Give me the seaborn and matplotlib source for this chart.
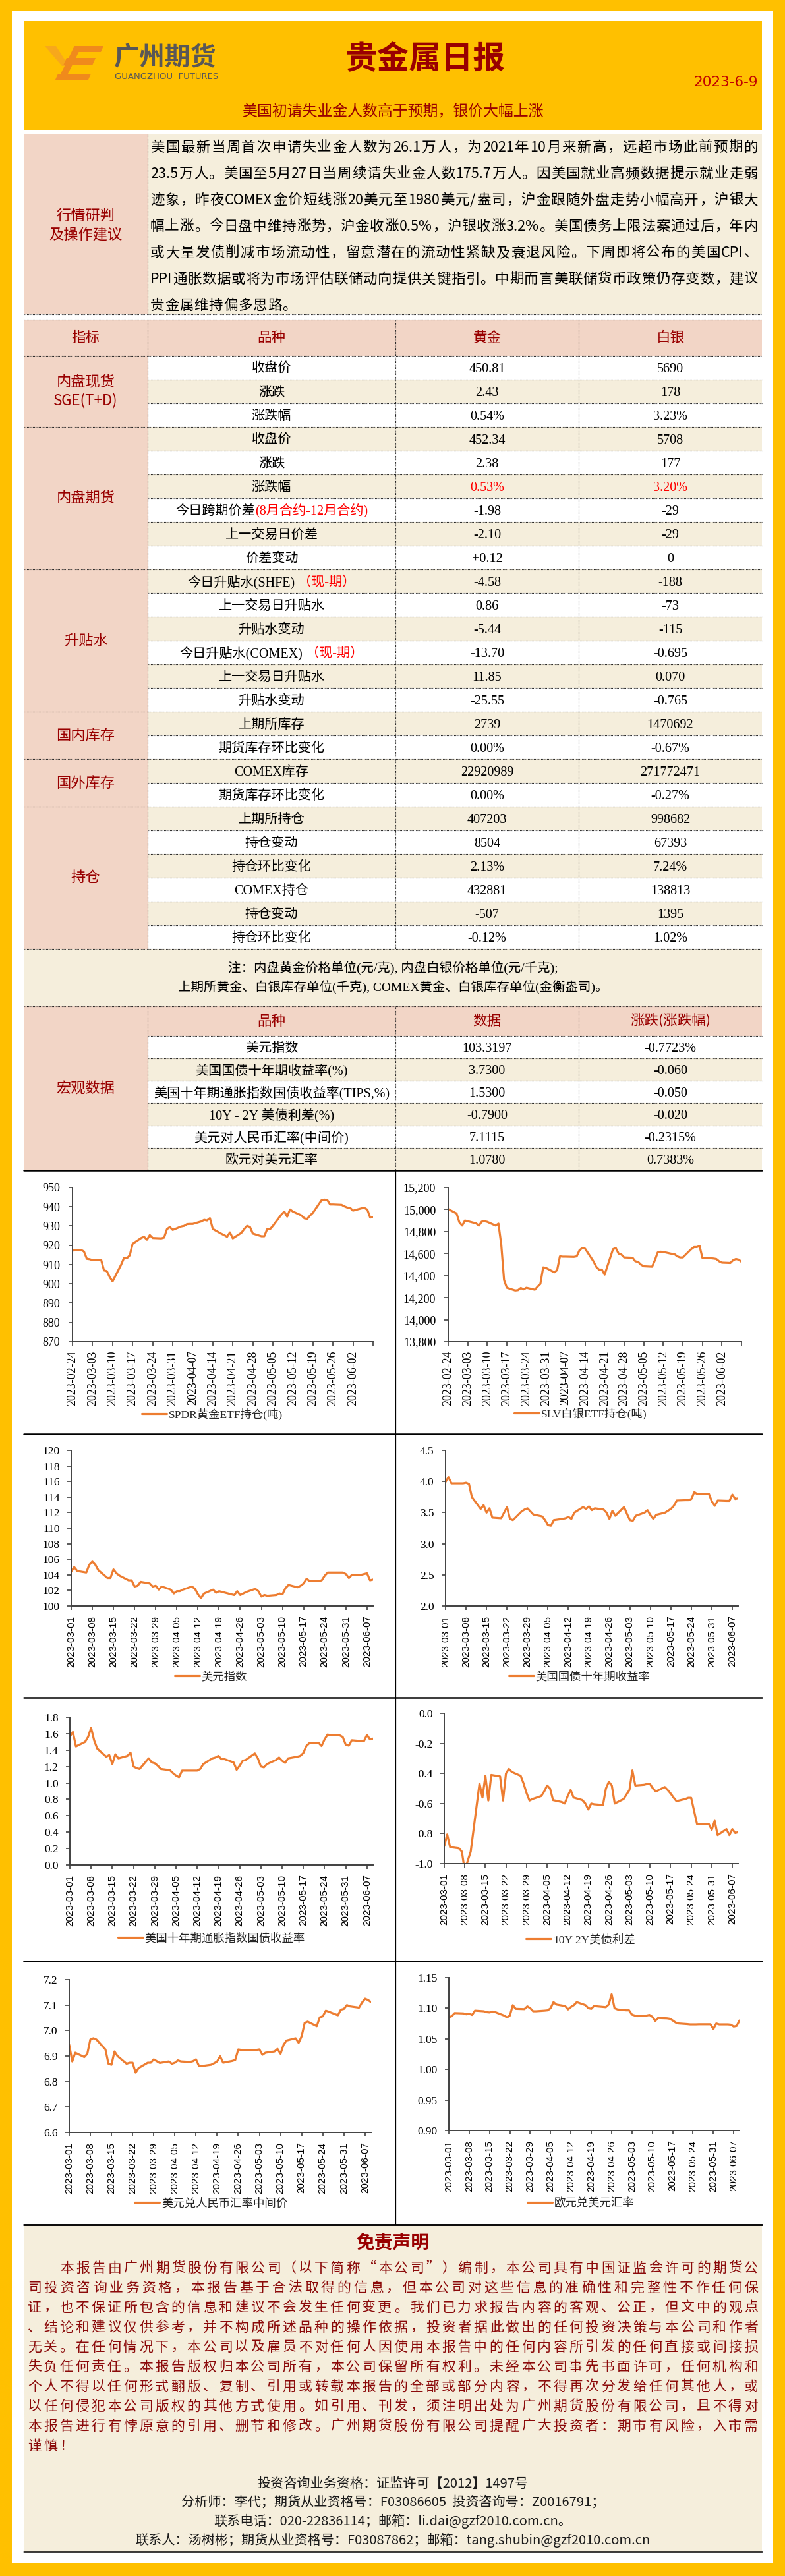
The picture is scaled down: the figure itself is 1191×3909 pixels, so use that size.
import matplotlib
matplotlib.use('Agg')
import matplotlib.pyplot as plt
from matplotlib.patches import Rectangle, Polygon
from matplotlib.lines import Line2D
from matplotlib.font_manager import FontProperties
import matplotlib.ticker as mticker
import numpy as np
import pandas as pd
import seaborn as sns

W, H = 1191, 3909

# ---------------- texts ----------------
report_title = '贵金属日报'
report_date = '2023-6-9'
headline = '美国初请失业金人数高于预期，银价大幅上涨'
analysis_label = '行情研判\n及操作建议'
analysis_lines = [
    '美国最新当周首次申请失业金人数为26.1万人，为2021年10月来新高，远超市场此前预期的',
    '23.5万人。美国至5月27日当周续请失业金人数175.7万人。因美国就业高频数据提示就业走弱',
    '迹象，昨夜COMEX金价短线涨20美元至1980美元/盎司，沪金跟随外盘走势小幅高开，沪银大',
    '幅上涨。今日盘中维持涨势，沪金收涨0.5%，沪银收涨3.2%。美国债务上限法案通过后，年内',
    '或大量发债削减市场流动性，留意潜在的流动性紧缺及衰退风险。下周即将公布的美国CPI、',
    'PPI通胀数据或将为市场评估联储动向提供关键指引。中期而言美联储货币政策仍存变数，建议',
    '贵金属维持偏多思路。',
]

# ---------------- main table ----------------
table_header = ['指标', '品种', '黄金', '白银']
group_names = ['内盘现货\nSGE(T+D)', '内盘期货', '升贴水', '国内库存', '国外库存', '持仓']
group_sizes = [3, 6, 6, 2, 2, 6]
table_items = ['收盘价', '涨跌', '涨跌幅', '收盘价', '涨跌', '涨跌幅', '今日跨期价差', '上一交易日价差', '价差变动',
               '今日升贴水(SHFE)', '上一交易日升贴水', '升贴水变动', '今日升贴水(COMEX)', '上一交易日升贴水', '升贴水变动',
               '上期所库存', '期货库存环比变化', 'COMEX库存', '期货库存环比变化',
               '上期所持仓', '持仓变动', '持仓环比变化', 'COMEX持仓', '持仓变动', '持仓环比变化']
item_red_notes = {6: '(8月合约-12月合约)', 9: ' （现-期）', 12: ' （现-期）'}
gold_values = ['450.81', '2.43', '0.54%', '452.34', '2.38', '0.53%', '-1.98', '-2.10', '+0.12',
               '-4.58', '0.86', '-5.44', '-13.70', '11.85', '-25.55', '2739', '0.00%', '22920989', '0.00%',
               '407203', '8504', '2.13%', '432881', '-507', '-0.12%']
silver_values = ['5690', '178', '3.23%', '5708', '177', '3.20%', '-29', '-29', '0',
                 '-188', '-73', '-115', '-0.695', '0.070', '-0.765', '1470692', '-0.67%', '271772471', '-0.27%',
                 '998682', '67393', '7.24%', '138813', '1395', '1.02%']
red_value_rows = [5]
table_note = ['注：内盘黄金价格单位(元/克), 内盘白银价格单位(元/千克);',
              '上期所黄金、白银库存单位(千克), COMEX黄金、白银库存单位(金衡盎司)。']

# ---------------- macro table ----------------
macro_header = ['品种', '数据', '涨跌(涨跌幅)']
macro_items = ['美元指数', '美国国债十年期收益率(%)', '美国十年期通胀指数国债收益率(TIPS,%)', '10Y - 2Y 美债利差(%)',
               '美元对人民币汇率(中间价)', '欧元对美元汇率']
macro_values = ['103.3197', '3.7300', '1.5300', '-0.7900', '7.1115', '1.0780']
macro_changes = ['-0.7723%', '-0.060', '-0.050', '-0.020', '-0.2315%', '0.7383%']

# ---------------- chart series ----------------
etf_dates = pd.bdate_range('2023-02-24', '2023-06-09')
macro_dates = pd.bdate_range('2023-03-01', '2023-06-09')

spdr_gold = [917.3, 917.6, 916.8,
             913.0, 912.8, 912.3,
             912.5, 907.0, 906.6, 903.5, 901.3,
             910.0, 913.5, 913.3, 914.8, 920.8,
             923.8, 924.4, 922.9, 925.3, 923.8,
             923.6, 924.0, 928.4, 929.5, 928.0,
             929.8, 930.1, 931.0, 931.1, 931.1,
             932.4, 933.2, 932.9, 934.1, 928.5,
             926.0, 925.3, 924.4, 926.7, 923.6,
             926.5, 928.5, 930.1, 929.5, 926.1,
             924.7, 924.7, 928.4, 928.4, 930.1,
             936.0, 937.5, 934.9, 938.6, 937.5,
             935.5, 934.0, 933.7, 935.5, 936.9,
             943.4, 943.7, 943.5, 941.2, 941.2,
             941.0, 940.2, 939.6, 939.4, 938.0,
             939.2, 939.4, 938.5, 934.4, 934.6]

slv_silver = [15004, 14964, 14884,
              14854, 14900, 14894,
              14874, 14854, 14890, 14894, 14888,
              14854, 14872, 14680, 14360, 14290,
              14265, 14268, 14288, 14275, 14290,
              14272, 14300, 14325, 14475, 14470,
              14430, 14450, 14575, 14572, 14572,
              14570, 14575, 14630, 14651, 14645,
              14530, 14480, 14455, 14455, 14409,
              14640, 14650, 14600, 14591, 14565,
              14562, 14530, 14525, 14500, 14485,
              14481, 14540, 14610, 14617, 14615,
              14598, 14595, 14575, 14565, 14565,
              14640, 14659, 14659, 14669, 14561,
              14558, 14555, 14551, 14530, 14518,
              14515, 14540, 14551, 14545, 14525]

dollar_index = [104.4, 105.0, 104.5,
                104.3, 105.3, 105.7, 105.3, 104.6,
                103.6, 103.6, 104.7, 104.2, 103.9,
                103.3, 103.3, 102.5, 102.6, 103.1,
                102.9, 102.5, 102.6, 102.1, 102.5,
                102.1, 101.6, 101.9, 101.9, 102.1,
                102.5, 102.2, 101.5, 101.0, 101.6,
                102.1, 101.7, 101.9, 101.8, 101.7,
                101.4, 101.9, 101.4, 101.6, 101.8,
                102.2, 101.9, 101.2, 101.4, 101.3,
                101.4, 101.6, 101.5, 102.3, 102.7,
                102.4, 102.6, 102.9, 103.5, 103.2,
                103.2, 103.3, 103.9, 104.3, 104.3,
                104.3, 104.3, 104.1, 103.6, 104.0,
                104.0, 104.1, 104.2, 103.3, 103.4]

us10y = [3.995, 4.07, 3.97,
         3.97, 3.97, 3.98, 3.96, 3.75,
         3.56, 3.62, 3.50, 3.57, 3.42,
         3.41, 3.50, 3.59, 3.40, 3.38,
         3.52, 3.55, 3.57, 3.52, 3.47,
         3.44, 3.38, 3.30, 3.29, 3.38,
         3.40, 3.41, 3.43, 3.40, 3.50,
         3.59, 3.56, 3.60, 3.54, 3.57,
         3.55, 3.50, 3.40, 3.53, 3.45,
         3.59, 3.48, 3.38, 3.37, 3.45,
         3.50, 3.54, 3.46, 3.40, 3.465,
         3.50, 3.53, 3.56, 3.61, 3.695,
         3.70, 3.70, 3.72, 3.83, 3.80,
         3.80, 3.80, 3.68, 3.61, 3.695,
         3.69, 3.69, 3.79, 3.72, 3.73]

tips10y = [1.565, 1.62, 1.445,
           1.50, 1.56, 1.67, 1.52, 1.42,
           1.32, 1.34, 1.23, 1.35, 1.30,
           1.33, 1.37, 1.20, 1.18, 1.17,
           1.30, 1.25, 1.24, 1.21, 1.17,
           1.155, 1.12, 1.09, 1.07, 1.15,
           1.15, 1.15, 1.15, 1.17, 1.23,
           1.30, 1.31, 1.33, 1.29, 1.29,
           1.25, 1.16, 1.21, 1.27, 1.28,
           1.36, 1.30, 1.20, 1.19, 1.23,
           1.28, 1.31, 1.27, 1.245, 1.30,
           1.32, 1.33, 1.365, 1.45, 1.485,
           1.49, 1.45, 1.53, 1.59, 1.58,
           1.58, 1.56, 1.465, 1.455, 1.52,
           1.51, 1.51, 1.585, 1.53, 1.54]

spread_10y2y = [-0.883, -0.806, -0.89,
                -0.898, -0.92, -1.05, -0.98, -0.92,
                -0.467, -0.56, -0.416, -0.58, -0.41,
                -0.42, -0.58, -0.40, -0.37, -0.39,
                -0.416, -0.467, -0.53, -0.58, -0.57,
                -0.55, -0.52, -0.48, -0.50, -0.577,
                -0.59, -0.60, -0.55, -0.51, -0.56,
                -0.577, -0.60, -0.64, -0.60, -0.605,
                -0.61, -0.50, -0.455, -0.48, -0.60,
                -0.57, -0.54, -0.51, -0.38, -0.48,
                -0.475, -0.47, -0.47, -0.50, -0.52,
                -0.49, -0.51, -0.533, -0.56, -0.584,
                -0.57, -0.562, -0.562, -0.65, -0.737,
                -0.737, -0.737, -0.774, -0.715, -0.81,
                -0.77, -0.81, -0.77, -0.796, -0.79]

usdcny = [6.944, 6.879, 6.913,
          6.896, 6.909, 6.965, 6.970, 6.965,
          6.926, 6.870, 6.866, 6.918, 6.900,
          6.870, 6.874, 6.874, 6.835, 6.853,
          6.874, 6.874, 6.887, 6.880, 6.873,
          6.879, 6.870, 6.874, 6.883, 6.879,
          6.877, 6.880, 6.887, 6.861, 6.861,
          6.866, 6.872, 6.879, 6.899, 6.874,
          6.881, 6.885, 6.926, 6.924, 6.924,
          6.924, 6.924, 6.926, 6.905, 6.913,
          6.918, 6.928, 6.909, 6.944, 6.961,
          6.970, 6.952, 6.978, 7.030, 7.035,
          7.017, 7.052, 7.056, 7.078, 7.074,
          7.060, 7.082, 7.085, 7.100, 7.095,
          7.090, 7.110, 7.125, 7.120, 7.1115]

eurusd = [1.0850, 1.0870, 1.0920,
          1.0915, 1.0900, 1.0910, 1.0890, 1.0960,
          1.0950, 1.0935, 1.0930, 1.0945, 1.0935,
          1.0880, 1.0850, 1.0880, 1.1050, 1.0990,
          1.0985, 1.1030, 1.1000, 1.0950, 1.0950,
          1.0960, 1.0965, 1.1000, 1.1100, 1.1060,
          1.1035, 1.0980, 1.1020, 1.1050, 1.1100,
          1.1050, 1.1000, 1.0990, 1.1040, 1.1030,
          1.1017, 1.1060, 1.1227, 1.1000, 1.0980,
          1.0965, 1.0965, 1.0895, 1.0880, 1.0870,
          1.0880, 1.0890, 1.0860, 1.0792, 1.0840,
          1.0835, 1.0828, 1.0800, 1.0766, 1.0750,
          1.0740, 1.0735, 1.0735, 1.0735, 1.0737,
          1.0737, 1.0737, 1.0660, 1.0750, 1.0735,
          1.0735, 1.0730, 1.0700, 1.0710, 1.0800]

disclaimer_title = '免责声明'
disclaimer_lines = [
    '本报告由广州期货股份有限公司（以下简称“本公司”）编制，本公司具有中国证监会许可的期货公',
    '司投资咨询业务资格，本报告基于合法取得的信息，但本公司对这些信息的准确性和完整性不作任何保',
    '证，也不保证所包含的信息和建议不会发生任何变更。我们已力求报告内容的客观、公正，但文中的观点',
    '、结论和建议仅供参考，并不构成所述品种的操作依据，投资者据此做出的任何投资决策与本公司和作者',
    '无关。在任何情况下，本公司以及雇员不对任何人因使用本报告中的任何内容所引发的任何直接或间接损',
    '失负任何责任。本报告版权归本公司所有，本公司保留所有权利。未经本公司事先书面许可，任何机构和',
    '个人不得以任何形式翻版、复制、引用或转载本报告的全部或部分内容，不得再次分发给任何其他人，或',
    '以任何侵犯本公司版权的其他方式使用。如引用、刊发，须注明出处为广州期货股份有限公司，且不得对',
    '本报告进行有悖原意的引用、删节和修改。广州期货股份有限公司提醒广大投资者：期市有风险，入市需',
    '谨慎！',
]
footer_lines = [
    '投资咨询业务资格：证监许可【2012】1497号',
    '分析师：李代；期货从业资格号：F03086605  投资咨询号：Z0016791；',
    '联系电话：020-22836114；邮箱：li.dai@gzf2010.com.cn。',
    '联系人：汤树彬；期货从业资格号：F03087862；邮箱：tang.shubin@gzf2010.com.cn',
]

# ---------------- styling ----------------
YELLOW = '#FFC000'
PINK = '#F2D5C6'
CREAM = '#F5EEDC'
DARKRED = '#990000'
RED = '#FF0000'
ORANGE = '#ED7D31'
AXISGRAY = '#404040'
CJK = ['Noto Sans CJK SC', 'DejaVu Sans']
TBL = ['Liberation Serif', 'Noto Sans CJK SC']

sns.set_style('ticks')
plt.rcParams['font.family'] = CJK
plt.rcParams['axes.unicode_minus'] = False

fig = plt.figure(figsize=(W / 100, H / 100), dpi=100)
fig.patch.set_facecolor(YELLOW)
renderer = fig.canvas.get_renderer()


def fx(x):
    return x / W


def fy(y):
    return 1 - y / H


def rect(x0, y0, x1, y1, color, z=-3):
    fig.add_artist(Rectangle((fx(x0), fy(y1)), (x1 - x0) / W, (y1 - y0) / H, transform=fig.transFigure,
                             facecolor=color, edgecolor='none', zorder=z))


def hline(x0, x1, y, lw=0.8, ls=(0, (1, 1)), color='#222222'):
    fig.add_artist(Line2D([fx(x0), fx(x1)], [fy(y), fy(y)], transform=fig.transFigure,
                          lw=lw, ls=ls, color=color, zorder=-1))


def vline(x, y0, y1, lw=0.8, ls=(0, (1, 1)), color='#222222'):
    fig.add_artist(Line2D([fx(x), fx(x)], [fy(y0), fy(y1)], transform=fig.transFigure,
                          lw=lw, ls=ls, color=color, zorder=-1))


def put(x, y, s, size, color='black', family=None, ha='center', weight='normal', va='center', **kw):
    return fig.text(fx(x), fy(y), s, fontsize=size, color=color, family=family or CJK,
                    ha=ha, va=va, fontweight=weight, **kw)


def text_w(s, size, family):
    prop = FontProperties(family=family, size=size)
    return renderer.get_text_width_height_descent(s, prop, ismath=False)[0]


def put_parts(xc, y, parts, size, family=TBL):
    widths = [text_w(s, size, family) for s, c in parts]
    x = xc - sum(widths) / 2
    yb = y + 0.36 * size * 100 / 72
    for (s, c), w in zip(parts, widths):
        fig.text(fx(x), fy(yb), s, fontsize=size, color=c, family=family, ha='left', va='baseline')
        x += w


def split_tokens(s):
    out, buf = [], ''
    for ch in s:
        if ord(ch) < 128:
            buf += ch
        else:
            if buf:
                out.append(buf)
                buf = ''
            out.append(ch)
    if buf:
        out.append(buf)
    return out


def para_line(x0, x1, y, s, size, color, family=CJK, gap=None):
    toks = split_tokens(s)
    ws = [text_w(t, size, family) for t in toks]
    if gap is None:
        gap = (x1 - x0 - sum(ws)) / max(len(toks) - 1, 1)
    x = x0
    yb = y + 0.36 * size * 100 / 72
    for t, w in zip(toks, ws):
        fig.text(fx(x), fy(yb), t, fontsize=size, color=color, family=family, ha='left', va='baseline')
        x += w + gap
    return gap


# ---------------- page frame ----------------
rect(18, 16, 1173, 3890, 'white', z=-4)

# header
rect(36, 32, 1156, 197, YELLOW)
fig.add_artist(Polygon([(fx(68), fy(70)), (fx(85), fy(70)), (fx(104), fy(100)), (fx(94), fy(100))],
                       closed=True, transform=fig.transFigure, facecolor='#F7A81B', edgecolor='none', zorder=1))
fig.add_artist(Polygon([(fx(113), fy(70)), (fx(124), fy(70)), (fx(98), fy(122)), (fx(87), fy(122))],
                       closed=True, transform=fig.transFigure, facecolor='#F08A1C', edgecolor='none', zorder=1))
for (xa, xb, ya, yb) in [(113, 157, 70, 79), (101, 145, 88, 98), (88, 138, 112, 122)]:
    sl = (yb - ya) * 0.45
    fig.add_artist(Polygon([(fx(xa), fy(ya)), (fx(xb), fy(ya)), (fx(xb - sl), fy(yb)), (fx(xa - sl), fy(yb))],
                           closed=True, transform=fig.transFigure, facecolor='#F08A1C', edgecolor='none', zorder=1))
put(173, 88, '广州期货', 28, '#595757', ha='left', weight='bold')
put(174, 117, 'GUANGZHOU  FUTURES', 9.5, '#595757', family=['DejaVu Sans'], ha='left')
put(645, 90, report_title, 35, DARKRED, weight='bold')
put(1150, 125, report_date, 15.5, '#C00000', family=['Liberation Sans Narrow', 'DejaVu Sans'], ha='right')
put(596, 170, headline, 16.5, DARKRED)

# ---------------- analysis section ----------------
rect(36, 204, 224, 477, PINK)
rect(224, 204, 1156, 477, CREAM)
vline(224, 204, 477)
hline(36, 1156, 477)
put(130, 343, analysis_label, 16, DARKRED, linespacing=1.3)
gap = None
for i, line in enumerate(analysis_lines):
    last = i == len(analysis_lines) - 1
    g = para_line(228, 1150, 222 + 40 * i, line, 15.5, 'black', gap=gap if last else None)
    gap = g

# ---------------- main table ----------------
col_x = [36, 224, 600, 878, 1156]
col_c = [(col_x[i] + col_x[i + 1]) / 2 for i in range(4)]
ROW = 36
top_tbl = 485
rect(36, top_tbl, 1156, 540, PINK)
for c, s in zip(col_c, table_header):
    put(c, 513, s, 15.5, DARKRED)
hline(36, 1156, top_tbl)
hline(36, 1156, 540)

row0 = 540
group_starts = np.cumsum([0] + group_sizes[:-1])
for gi, (name, n) in enumerate(zip(group_names, group_sizes)):
    y0 = row0 + ROW * group_starts[gi]
    rect(36, y0, 224, y0 + ROW * n, PINK)
    put(130, y0 + ROW * n / 2, name, 16, DARKRED, family=['Noto Sans CJK SC'], linespacing=1.25)
    hline(36, 1156, y0 + ROW * n)

for i, item in enumerate(table_items):
    y0 = row0 + ROW * i
    rect(224, y0, 1156, y0 + ROW, 'white' if i % 2 == 0 else CREAM)
    if i + 1 not in np.cumsum(group_sizes):
        hline(224, 1156, y0 + ROW)
    parts = [(item, 'black')]
    if i in item_red_notes:
        parts.append((item_red_notes[i], RED))
    put_parts(col_c[1], y0 + ROW / 2, parts, 14.5)
    vc = RED if i in red_value_rows else 'black'
    put_parts(col_c[2], y0 + ROW / 2, [(gold_values[i], vc)], 14.5)
    put_parts(col_c[3], y0 + ROW / 2, [(silver_values[i], vc)], 14.5)

tbl_end = row0 + ROW * len(table_items)
for x in col_x[1:4]:
    vline(x, top_tbl, tbl_end)

# note
rect(36, tbl_end, 1156, 1527, CREAM)
put_parts(596, 1468, [(table_note[0], 'black')], 14)
put_parts(596, 1497, [(table_note[1], 'black')], 14)
hline(36, 1156, 1527)

# ---------------- macro table ----------------
rect(36, 1527, 224, 1776, PINK)
rect(224, 1527, 1156, 1572, PINK)
put(130, 1652, '宏观数据', 16, DARKRED)
for c, s in zip(col_c[1:], macro_header):
    put(c, 1550, s, 15.5, DARKRED)
hline(224, 1156, 1572)
MROW = 34
for i, item in enumerate(macro_items):
    y0 = 1572 + MROW * i
    rect(224, y0, 1156, y0 + MROW, 'white' if i % 2 == 0 else CREAM)
    if i < len(macro_items) - 1:
        hline(224, 1156, y0 + MROW)
    put_parts(col_c[1], y0 + MROW / 2, [(item, 'black')], 14.5)
    put_parts(col_c[2], y0 + MROW / 2, [(macro_values[i], 'black')], 14.5)
    put_parts(col_c[3], y0 + MROW / 2, [(macro_changes[i], 'black')], 14.5)
for x in col_x[1:4]:
    vline(x, 1527, 1776)

# ---------------- charts ----------------
for y in [1776, 2176, 2576, 2976, 3376]:
    hline(36, 1156, y, lw=1.8, ls='-', color='black')
vline(600, 1776, 3376, lw=0.9, ls='-', color='black')

LEG_PROP = FontProperties(family=['Liberation Serif', 'Noto Sans CJK SC'], size=12.5)


def draw_chart(box, dates, values, ylim, nticks, yfmt, label, leg_xy, upper):
    left, top, right, bottom = box
    ax = fig.add_axes([fx(left), fy(bottom), (right - left) / W, (bottom - top) / H])
    ax.set_facecolor('white')
    df = pd.DataFrame({'date': dates, 'value': values})
    sns.lineplot(data=df, x='date', y='value', ax=ax, color=ORANGE, linewidth=2.3, label=label)
    ax.set_xlabel('')
    ax.set_ylabel('')
    ax.set_ylim(*ylim)
    yt = np.round(np.linspace(ylim[0], ylim[1], nticks), 4) + 0.0
    ax.set_yticks(yt)
    ax.set_yticklabels([yfmt.format(x=v) for v in yt])
    if upper:
        ticks = pd.date_range('2023-02-24', '2023-06-09', freq='7D')
        labels = [t.strftime('%Y-%m-%d') for t in ticks[:-1]] + ['']
        ax.set_xlim(pd.Timestamp('2023-02-24'), pd.Timestamp('2023-06-09'))
        xfont = {'family': 'Liberation Serif', 'size': 13}
        yfont = {'family': 'Liberation Serif', 'size': 13}
        xpad, ypad = 5, 9
    else:
        ticks = pd.date_range('2023-03-01', '2023-06-07', freq='7D')
        labels = [t.strftime('%Y-%m-%d') for t in ticks]
        ax.set_xlim(pd.Timestamp('2023-03-01'), pd.Timestamp('2023-06-09'))
        xfont = {'family': 'Liberation Sans', 'size': 11}
        yfont = {'family': 'Liberation Serif', 'size': 12.5}
        xpad, ypad = 6, 8
    ax.set_xticks(ticks)
    ax.set_xticklabels(labels, rotation=90, fontdict=xfont)
    for t in ax.get_yticklabels():
        t.set_fontfamily(yfont['family'])
        t.set_fontsize(yfont['size'])
    ax.tick_params(axis='x', pad=xpad)
    ax.tick_params(axis='y', pad=ypad)
    ax.tick_params(direction='out', length=4.5, width=1.2, color=AXISGRAY, labelcolor='black')
    ax.spines[['top', 'right']].set_visible(False)
    for sp in ['left', 'bottom']:
        ax.spines[sp].set_color(AXISGRAY)
        ax.spines[sp].set_linewidth(1.4)
    ax.grid(False)
    ax.legend(loc='center', bbox_to_anchor=(fx(leg_xy[0]), fy(leg_xy[1])), bbox_transform=fig.transFigure,
              frameon=False, handlelength=2.2, handletextpad=0.15, borderpad=0, borderaxespad=0, prop=LEG_PROP)
    return ax


draw_chart((110, 1802, 566, 2036), etf_dates, spdr_gold, (870, 950), 9, '{x:.0f}',
           'SPDR黄金ETF持仓(吨)', (322, 2146), True)
draw_chart((680, 1802, 1125, 2036), etf_dates, slv_silver, (13800, 15200), 8, '{x:,.0f}',
           'SLV白银ETF持仓(吨)', (881, 2145), True)
draw_chart((108, 2201, 566, 2437), macro_dates, dollar_index, (100, 120), 11, '{x:.0f}',
           '美元指数', (320, 2545), False)
draw_chart((676, 2201, 1120, 2437), macro_dates, us10y, (2.0, 4.5), 6, '{x:.1f}',
           '美国国债十年期收益率', (879, 2545), False)
draw_chart((106, 2606, 566, 2830), macro_dates, tips10y, (0.0, 1.8), 10, '{x:.1f}',
           '美国十年期通胀指数国债收益率', (321, 2942), False)
draw_chart((674, 2600, 1120, 2828), macro_dates, spread_10y2y, (-1.0, 0.0), 6, '{x:.1f}',
           '10Y-2Y美债利差', (881, 2944), False)
draw_chart((105, 3004, 563, 3236), macro_dates, usdcny, (6.6, 7.2), 7, '{x:.1f}',
           '美元兑人民币汇率中间价', (320, 3344), False)
draw_chart((681, 3001, 1122, 3233), macro_dates, eurusd, (0.90, 1.15), 6, '{x:.2f}',
           '欧元兑美元汇率', (881, 3344), False)

# ---------------- disclaimer ----------------
rect(36, 3376, 1156, 3872, CREAM)
hline(36, 1156, 3376, lw=1.8, ls='-', color='black')
hline(36, 1156, 3872, lw=1.8, ls='-', color='black')
put(596, 3404, disclaimer_title, 20, DARKRED, weight='bold')
gap = None
for i, line in enumerate(disclaimer_lines):
    x0 = 91 if i == 0 else 42
    last = i == len(disclaimer_lines) - 1
    g = para_line(x0, 1150, 3440 + 30 * i, line, 15, '#8B0A0A', gap=gap if last else None)
    gap = g
for i, line in enumerate(footer_lines):
    put(596, 3769 + 28.5 * i, line, 14.5, '#1A1A1A')

fig.savefig('out.png', dpi=100, facecolor=fig.get_facecolor())
